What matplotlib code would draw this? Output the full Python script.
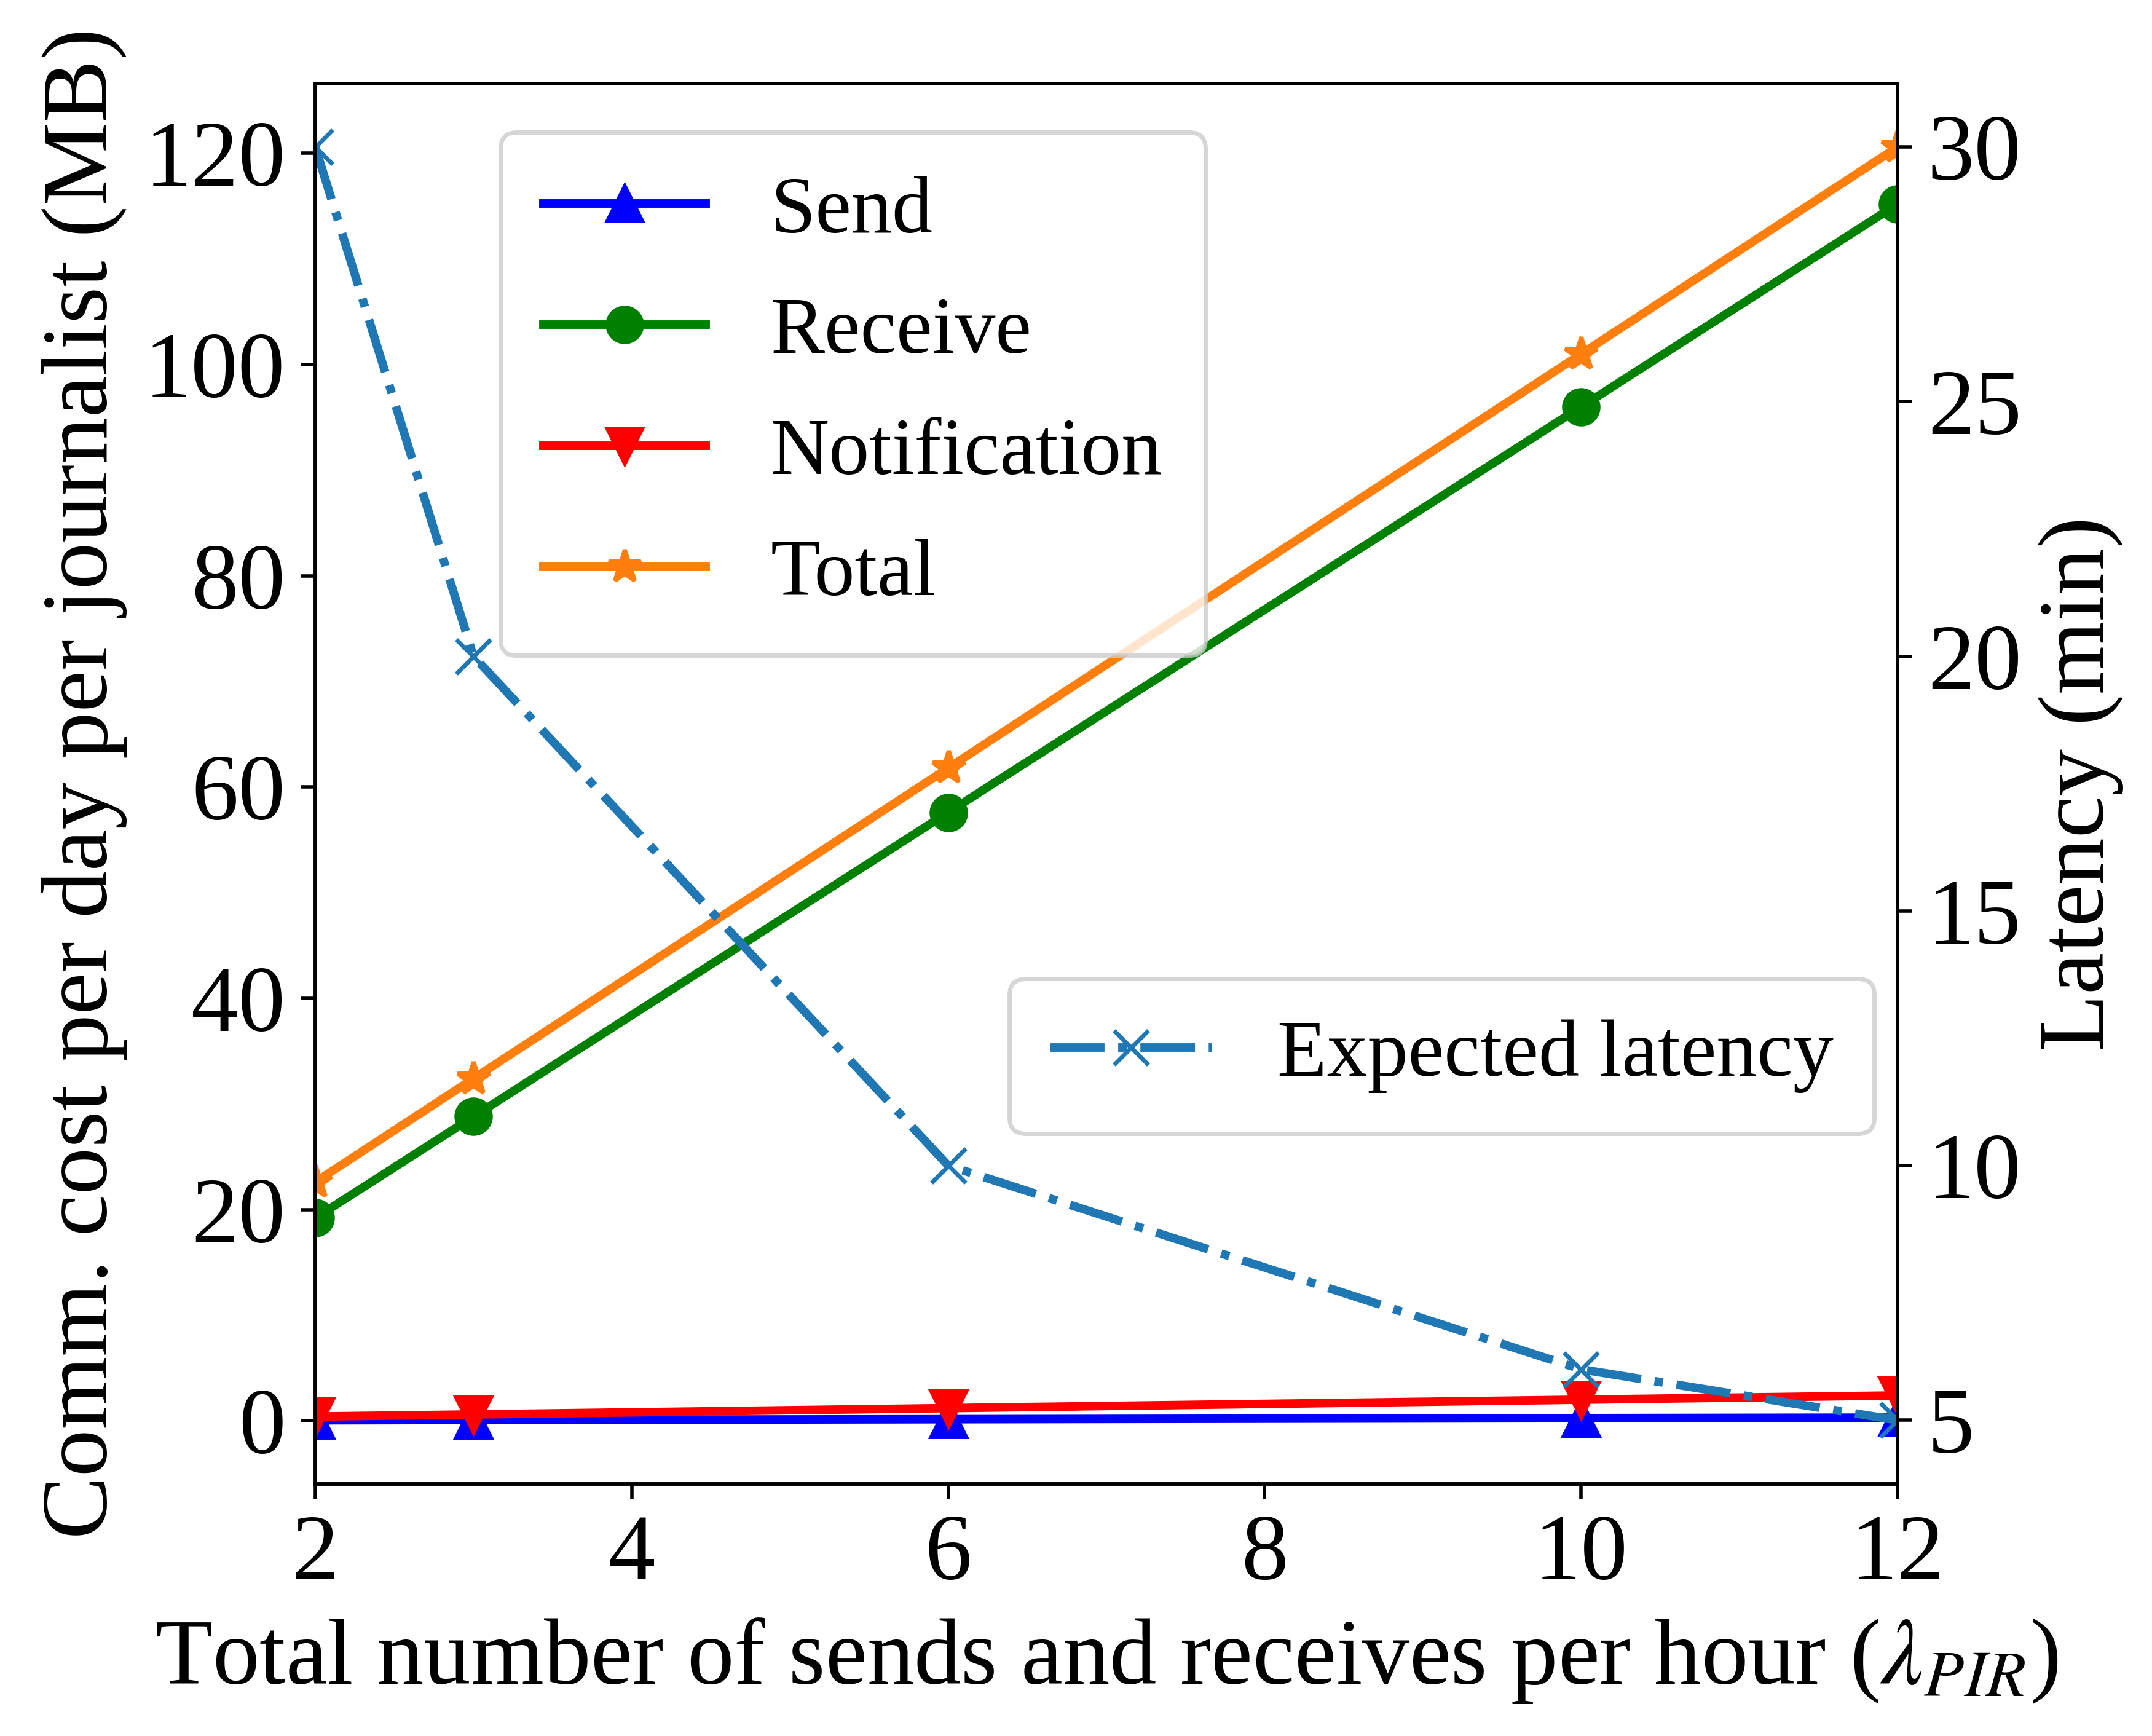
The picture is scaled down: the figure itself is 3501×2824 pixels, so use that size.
import matplotlib
matplotlib.use("Agg")
import matplotlib.pyplot as plt

plt.rcParams.update(
    {
        "font.family": "serif",
        "font.serif": ["Liberation Serif", "DejaVu Serif"],
        "mathtext.fontset": "stix",
        "font.size": 22,
        "lines.linewidth": 2.0,
    }
)

# data
rate = [2, 3, 6, 10, 12]
send_mb = [0.05, 0.08, 0.15, 0.25, 0.3]
receive_mb = [19.2, 28.8, 57.6, 96.0, 115.2]
notification_mb = [0.4, 0.6, 1.2, 2.0, 2.4]
total_mb = [22.6, 32.4, 61.8, 101.0, 120.6]
latency_min = [30, 20, 10, 6, 5]

fig = plt.figure(figsize=(7.002, 5.648), dpi=500)
ax = fig.add_axes([0.1465, 0.1452, 0.8818 - 0.1465, 0.952 - 0.1452])

ax.plot(rate, send_mb, color="blue", marker="^", markersize=8, label="Send")
ax.plot(rate, receive_mb, color="green", marker="o", markersize=8, label="Receive")
ax.plot(rate, notification_mb, color="red", marker="v", markersize=8, label="Notification")
ax.plot(rate, total_mb, color="#ff7f0e", marker="*", markersize=8, label="Total")
ax.set_xlim(2, 12)
ax.set_xlabel(r"Total number of sends and receives per hour ($\lambda_{PIR}$)")
ax.set_ylabel("Comm. cost per day per journalist (MB)")

ax2 = ax.twinx()
ax2.plot(rate, latency_min, color="#1f77b4", linestyle="-.", marker="x",
         markersize=8, label="Expected latency")
ax2.set_ylabel("Latency (min)")

ax.legend(loc="upper left", bbox_to_anchor=(0.117, 0.965), borderaxespad=0,
          fontsize=19, labelspacing=0.58, borderpad=0.53)
ax2.legend(loc="lower right", bbox_to_anchor=(0.985, 0.25), borderaxespad=0,
           fontsize=19, borderpad=0.5)

fig.savefig("out.png", dpi=500)
